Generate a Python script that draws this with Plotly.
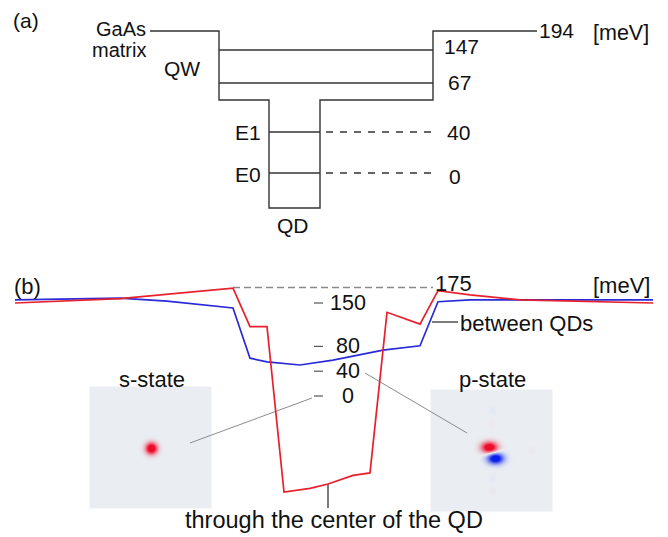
import numpy as np
import plotly.graph_objects as go

FONT = "Arial, 'Liberation Sans', sans-serif"
INK = "#333333"
W, H = 668, 537

# ---------------- panel (a): schematic band diagram (not to scale) ----------------
a_level_text = ["194", "147", "67", "40", "0"]           # meV
a_level_row = [31, 50, 83, 132, 173]                    # schematic drawing rows
a_qw_floor_row = 100
a_qd_floor_row = 208
# columns: matrix start, QW left, QD left, QD right, QW right, matrix end, dash end
a_cols = [150, 219, 269, 320, 433, 537, 437]
a_label_x = [538, 443, 447, 446, 448]

# ---------------- panel (b): potential profiles (meV) ----------------
pos_red = [15, 120, 233, 250, 267, 284, 310, 328, 353, 370, 387, 420, 438, 470, 520, 653]
E_red = [150, 157, 174, 112, 112, -155, -149, -142, -128, -124, 135, 116, 170, 163, 155, 150]
pos_blue = [15, 120, 167, 200, 233, 250, 267, 300, 333, 383, 420, 438, 470, 653]
E_blue = [155, 158, 153, 148, 142, 61, 55, 50, 58, 74, 81, 152, 155, 155]
b_ticks = [150, 80, 40, 0]
b_barrier = 175

# energy axis placement of panel (b)
ZERO_ROW, PX_PER_MEV = 396, 0.62
y2_range = [(ZERO_ROW - H) / PX_PER_MEV, ZERO_ROW / PX_PER_MEV]

fig = go.Figure()

# ---------- wavefunction images ----------
def lobes_image(x0, y0, size, lobes):
    xs = np.arange(x0, x0 + size)
    ys = np.arange(y0, y0 + size)
    X, Y = np.meshgrid(xs, ys)
    Z = np.zeros_like(X, dtype=float)
    for cx, cy, sx, sy, amp in lobes:
        Z += amp * np.exp(-(((X - cx) / sx) ** 2 + ((Y - cy) / sy) ** 2) / 2)
    return xs, ys, np.clip(Z, -1, 1)

cs = [[0.0, "rgb(10,30,235)"], [0.5, "rgb(234,238,243)"], [1.0, "rgb(238,10,40)"]]
s_lobes = [(151, 448, 4.0, 4.0, 1.35)]
p_lobes = [(489, 447, 5.5, 3.8, 1.3), (495, 458, 5.5, 3.8, -1.3),
           (492, 410, 3, 3, -0.035), (492, 423, 3, 3, 0.03),
           (492, 478, 3, 3, -0.03), (492, 491, 3, 3, 0.035),
           (532, 450, 3, 3, 0.03)]
for (x0, y0, lobes) in [(90, 387, s_lobes), (431, 390, p_lobes)]:
    xs, ys, Z = lobes_image(x0, y0, 122, lobes)
    fig.add_trace(go.Heatmap(x=xs, y=ys, z=Z, colorscale=cs, zmin=-1, zmax=1,
                             showscale=False, hoverinfo="skip", xaxis="x", yaxis="y"))

# ---------- panel (a) lines ----------
r194, r147, r67, r40, r0 = a_level_row
c_m0, c_qwl, c_qdl, c_qdr, c_qwr, c_m1, c_dash = a_cols
outline_x = [c_m0, c_qwl, c_qwl, c_qdl, c_qdl, c_qdr, c_qdr, c_qwr, c_qwr, c_m1]
outline_y = [r194, r194, a_qw_floor_row, a_qw_floor_row, a_qd_floor_row, a_qd_floor_row,
             a_qw_floor_row, a_qw_floor_row, r194, r194]
fig.add_trace(go.Scatter(x=outline_x, y=outline_y, mode="lines",
                         line=dict(color=INK, width=1.4), hoverinfo="skip"))
inner_x = [c_qwl, c_qwr, None, c_qwl, c_qwr, None, c_qdl, c_qdr, None, c_qdl, c_qdr]
inner_y = [r147, r147, None, r67, r67, None, r40, r40, None, r0, r0]
fig.add_trace(go.Scatter(x=inner_x, y=inner_y, mode="lines",
                         line=dict(color=INK, width=1.4), hoverinfo="skip"))
fig.add_trace(go.Scatter(x=[c_qdr + 6, c_dash, None, c_qdr + 6, c_dash],
                         y=[r40, r40, None, r0, r0], mode="lines",
                         line=dict(color=INK, width=1.4, dash="7px,7px"), hoverinfo="skip"))

# ---------- panel (b) ----------
fig.add_trace(go.Scatter(x=[233, 433], y=[b_barrier, b_barrier], mode="lines", yaxis="y2",
                         line=dict(color="#8a8a8a", width=1.4, dash="7px,4px"), hoverinfo="skip"))
tx, ty = [], []
for t in b_ticks:
    tx += [314, 323, None]
    ty += [t, t, None]
fig.add_trace(go.Scatter(x=tx, y=ty, mode="lines", yaxis="y2",
                         line=dict(color="#555555", width=1.2), hoverinfo="skip"))
fig.add_trace(go.Scatter(x=pos_blue, y=E_blue, mode="lines", yaxis="y2",
                         line=dict(color="#2a2ad8", width=1.7), hoverinfo="skip"))
fig.add_trace(go.Scatter(x=pos_red, y=E_red, mode="lines", yaxis="y2",
                         line=dict(color="#e8202c", width=1.7), hoverinfo="skip"))
# leader lines
fig.add_trace(go.Scatter(x=[190, 312, None, 365, 467], y=[443, 398, None, 373, 433], mode="lines",
                         line=dict(color="#8c8c8c", width=1), hoverinfo="skip"))
fig.add_trace(go.Scatter(x=[432, 458, None, 328, 328], y=[322, 322, None, 484, 508], mode="lines",
                         line=dict(color=INK, width=1.3), hoverinfo="skip"))

ann = []
def T(text, x, y, xanchor="center", size=21, yref="y"):
    ann.append(dict(text=text, x=x, y=y, xref="x", yref=yref, showarrow=False,
                    xanchor=xanchor, yanchor="middle", borderpad=0,
                    font=dict(family=FONT, size=size, color="#111")))

T("(a)", 26, 20)
T("GaAs", 147, 29, "right", 20)
T("matrix", 147, 50, "right", 20)
T("QW", 182, 68)
T("E1", 262, 132, "right")
T("E0", 262, 174, "right")
T("QD", 293, 225)
for txt, lx, row in zip(a_level_text, a_label_x, [30, 46, 82, 132, 176]):
    T(txt, lx, row, "left")
T("[meV]", 592, 33, "left", 21.5)

T("(b)", 27, 286, size=22)
T(str(b_barrier), 434, 283, "left", 22)
T("[meV]", 592, 285, "left", 22)
T("between QDs", 459, 323, "left", 22)
T("s-state", 152, 379, size=22)
T("p-state", 492, 379, size=22)
T("through the center of the QD", 334, 520, size=23.5)
for t in b_ticks:
    T(str(t), 348, t, size=21.5, yref="y2")

ax = dict(visible=False, showgrid=False, zeroline=False, fixedrange=True)
fig.update_layout(
    width=W, height=H, margin=dict(l=0, r=0, t=0, b=0),
    paper_bgcolor="white", plot_bgcolor="white", showlegend=False,
    xaxis=dict(range=[0, W], domain=[0, 1], **ax),
    yaxis=dict(range=[H, 0], domain=[0, 1], **ax),
    yaxis2=dict(range=y2_range, domain=[0, 1], overlaying="y", **ax),
    annotations=ann,
)
fig.write_html("out.html")
